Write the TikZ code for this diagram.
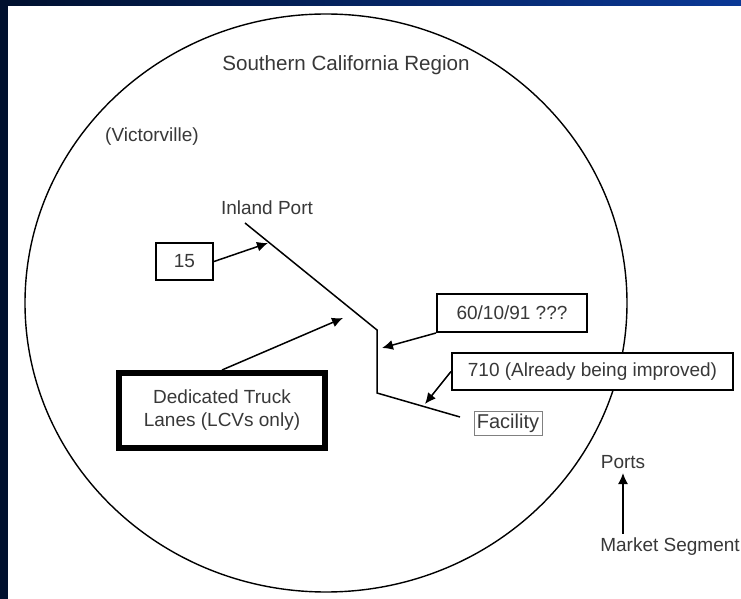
\documentclass[tikz,border=0pt]{standalone}
\usepackage{fontspec}
\setmainfont{Liberation Sans}
\usetikzlibrary{shapes, arrows.meta}

\definecolor{navydark}{HTML}{00102E}
\definecolor{navyblue}{HTML}{0A3896}
\definecolor{txtgray}{HTML}{383838}

\begin{document}
\begin{tikzpicture}[x=0.5pt, y=-0.5pt,
		lbl/.style={text=txtgray, inner sep=0pt, font=\fontsize{9.5}{11.5}\selectfont},
		box/.style={lbl, draw=black, fill=white, line width=1pt, minimum height=18.5pt},
		arr/.style={line width=0.75pt, -{Latex[length=5.5pt, width=5pt]}}]
		\useasboundingbox (0, 0) rectangle (741, 599);
		\fill[white] (0, 0) rectangle (741, 599);
		\shade[left color=navydark, right color=navyblue] (0, 0) rectangle (741, 6);
		\fill[navydark] (0, 0) rectangle (8, 599);
		\def\cx{326}
		\def\cy{303}
		\draw[line width=0.7pt] (\cx, \cy) ellipse [x radius=301, y radius=289];
		\node[lbl, font=\fontsize{10.3}{12}\selectfont] (region) at (346, 65) {Southern California Region};
		\node[lbl] (victor) at (152, 137) {(Victorville)};
		\node[lbl] (inland) at (267, 208) {Inland Port};
		\node[box, minimum width=28.5pt] (b15) at (184.5, 261.5) {15};
		\node[box, line width=3pt, minimum width=103pt, minimum height=37.5pt, align=center] (dtl) at (222, 410.5) {Dedicated Truck\\Lanes (LCVs only)};
		\node[box, minimum width=75pt, minimum height=19pt] (b60) at (512, 313) {60/10/91 ???};
		\node[box, minimum width=140.5pt] (b710) at (592.5, 371.5) {710 (Already being improved)};
		\node[lbl, draw=gray, line width=0.4pt, minimum width=34pt, minimum height=12pt, font=\fontsize{10}{12}\selectfont] (fac) at (508, 423) {Facility};
		\node[lbl, inner sep=2pt] (ports) at (623, 462) {Ports};
		\node[lbl, inner sep=2pt] (market) at (670, 547) {Market Segment};
		\coordinate (p0) at (245, 223);
		\coordinate (p1) at (377, 330);
		\coordinate (p2) at (377, 393);
		\coordinate (p3) at (460, 417);
		\draw[line width=0.75pt] (p0) -- (p1) -- (p2) -- (p3);
		\coordinate (t15) at (268, 243);
		\coordinate (tdtl) at (343, 318);
		\coordinate (t60) at (382, 348);
		\coordinate (t710) at (425, 404);
		\draw[arr] (b15.east) -- (t15);
		\draw[arr] (dtl.north) -- (tdtl);
		\draw[arr] (b60.south west) -- (t60);
		\draw[arr] (b710.west) -- (t710);
		\draw[arr] (market.north -| ports.south) -- (ports.south);
	\end{tikzpicture}
\end{document}
